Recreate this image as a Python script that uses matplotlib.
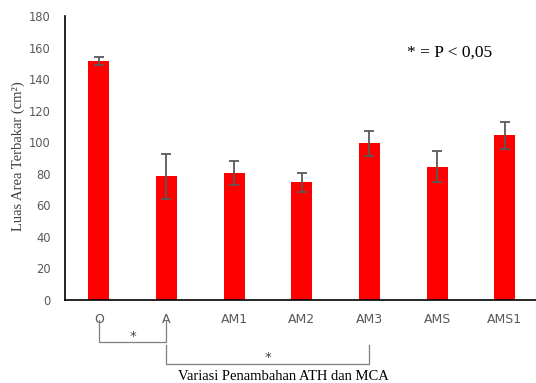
import numpy as np
import matplotlib
matplotlib.use("Agg")
import matplotlib.pyplot as plt

# data
groups = ["O", "A", "AM1", "AM2", "AM3", "AMS", "AMS1"]
luas = [151.5, 78.3, 80.5, 74.5, 99.2, 84.5, 104.3]
err = [2.5, 14.0, 7.5, 6.2, 8.2, 9.7, 8.5]

fig = plt.figure(figsize=(5.36, 3.83), dpi=100)
ax = fig.add_axes([0.121, 0.2167, 0.884, 0.7415])

x = np.arange(len(groups))
ax.bar(x, luas, width=0.31, color="#ff0000", zorder=2)
ax.errorbar(x, luas, yerr=err, fmt="none", ecolor="#595959",
            elinewidth=1.3, capsize=3.5, capthick=1.3, zorder=3)

ax.set_xlim(-0.5, len(groups) - 0.5)
ax.set_ylim(0, 180)
ax.set_yticks(np.arange(0, 181, 20))
ax.set_xticks(x)
ax.set_xticklabels(groups)
ax.tick_params(axis="both", length=0, labelcolor="#595959")
ax.tick_params(axis="x", pad=9, labelsize=9)
ax.tick_params(axis="y", pad=10, labelsize=8.3)
for s in ["top", "right"]:
    ax.spines[s].set_visible(False)
for s in ["left", "bottom"]:
    ax.spines[s].set_linewidth(1.2)
    ax.spines[s].set_color("black")

# significance brackets under the axis
tr = ax.get_xaxis_transform()
lc = "#7f7f7f"
ax.plot([0, 0, 1, 1], [-0.0704, -0.148, -0.148, -0.0704], color=lc, lw=0.9,
        transform=tr, clip_on=False)
ax.text(0.5, -0.15, "*", ha="center", va="bottom", fontsize=9.5, color="#404040",
        transform=tr)
ax.plot([1, 1, 4, 4], [-0.158, -0.225, -0.225, -0.158], color=lc, lw=0.9,
        transform=tr, clip_on=False)
ax.text(2.5, -0.227, "*", ha="center", va="bottom", fontsize=9.5, color="#404040",
        transform=tr)

serif = "Liberation Serif"
fig.text(0.034, 0.593, "Luas Area Terbakar (cm²)", rotation=90, ha="center",
         va="center", family=serif, fontsize=10.5, color="#404040")
fig.text(0.528, 0.018, "Variasi Penambahan ATH dan MCA", ha="center",
         va="center", family=serif, fontsize=10.5, color="black")
fig.text(0.76, 0.862, "* = P < 0,05", ha="left", va="center", family=serif,
         fontsize=12.5, color="black")

fig.savefig("out.png", dpi=100)
